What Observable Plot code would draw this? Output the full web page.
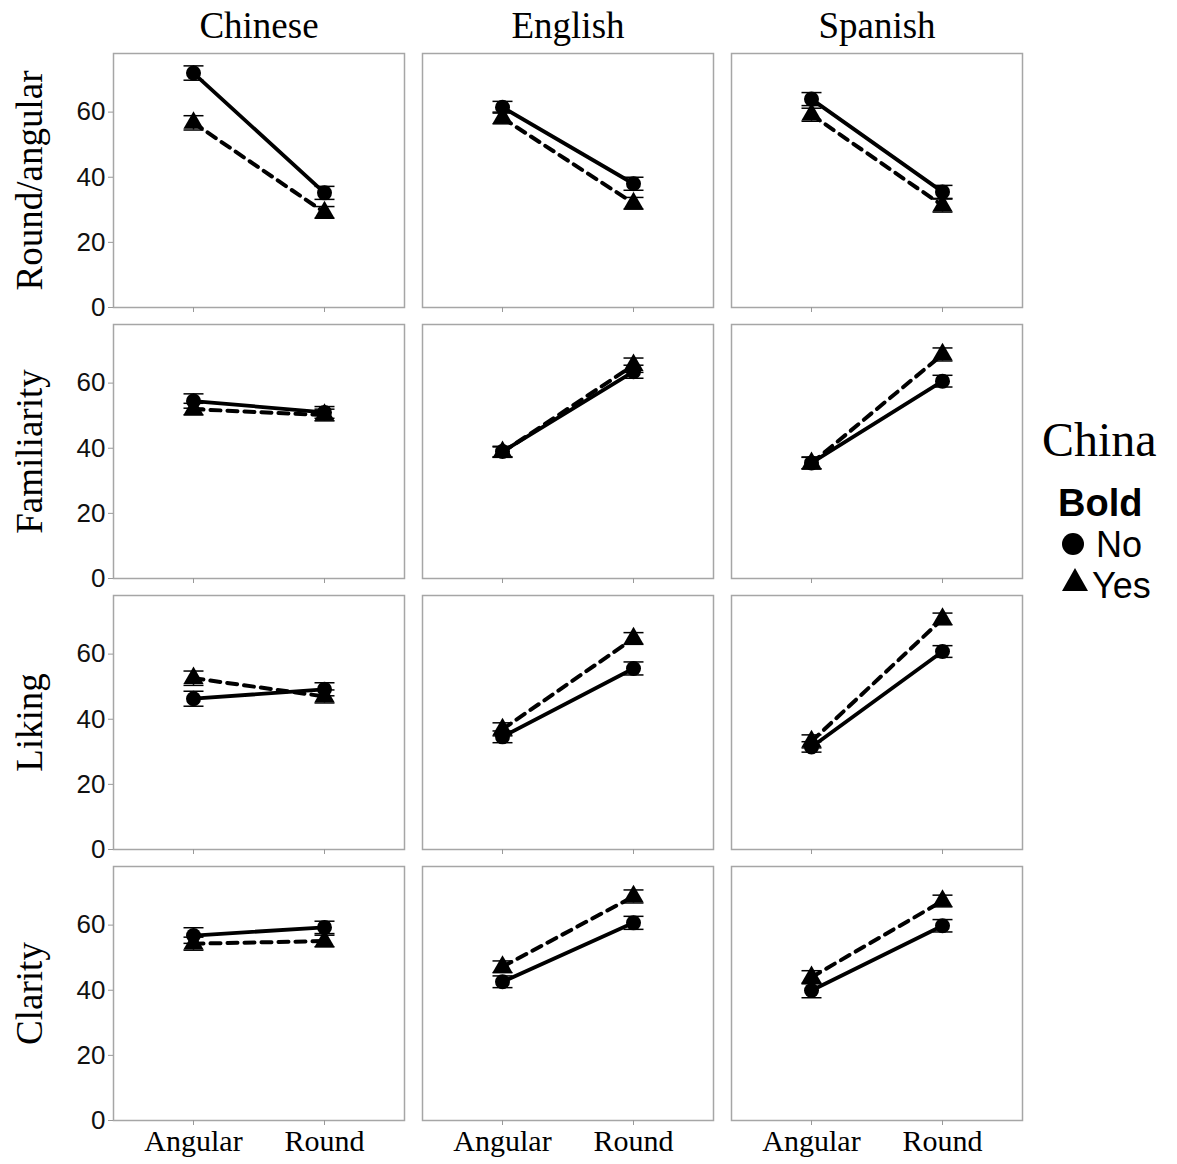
<!DOCTYPE html>
<html>
<head>
<meta charset="utf-8">
<script src="https://cdn.jsdelivr.net/npm/d3@7"></script>
<script src="https://cdn.jsdelivr.net/npm/@observablehq/plot@0.6"></script>
<style>
  html, body { margin: 0; padding: 0; background: #fff; }
  #wrap { position: relative; width: 1177px; height: 1164px; overflow: hidden; }
  #chart { position: absolute; left: 0; top: 0; }
  .lg { position: absolute; white-space: nowrap; color: #000; line-height: 1; }
</style>
</head>
<body>
<div id="wrap">
  <div id="chart"></div>
  <div class="lg" style="left:1042px; top:416px; font-family:'Liberation Serif',serif; font-size:48px;">China</div>
  <div class="lg" style="left:1058px; top:484px; font-family:'Liberation Sans',Arial,sans-serif; font-size:38px; font-weight:bold;">Bold</div>
  <svg class="lg" style="left:1058px; top:530px;" width="40" height="66">
    <circle cx="15" cy="14" r="11" fill="#000"></circle>
    <polygon points="17,38 30,61 4,61" fill="#000"></polygon>
  </svg>
  <div class="lg" style="left:1096px; top:526.5px; font-family:'Liberation Sans',Arial,sans-serif; font-size:36px;">No</div>
  <div class="lg" style="left:1092px; top:567.5px; font-family:'Liberation Sans',Arial,sans-serif; font-size:36px;">Yes</div>
</div>
<script>
// ---- data ----
const languages = ["Chinese", "English", "Spanish"];
const measures = ["Round/angular", "Familiarity", "Liking", "Clarity"];
const shapes = ["Angular", "Round"];
const boldLevels = ["No", "Yes"];
const yTicks = [0, 20, 40, 60];

// means [measure][language][shape]
const meanNo = [
  [[72.0, 35.2], [61.5, 38.0], [64.0, 35.5]],
  [[54.5, 51.0], [39.0, 63.5], [35.5, 60.6]],
  [[46.3, 49.2], [34.6, 55.6], [31.5, 60.8]],
  [[56.8, 59.3], [42.6, 60.7], [39.9, 59.8]]
];
const meanYes = [
  [[56.7, 29.2], [58.2, 32.0], [59.2, 31.3]],
  [[52.0, 50.2], [38.8, 65.5], [35.4, 68.8]],
  [[52.6, 47.0], [36.9, 64.8], [33.2, 70.8]],
  [[54.3, 55.1], [47.2, 68.8], [44.0, 67.4]]
];
// standard errors [measure][language][shape]
const seNo = [
  [[2.2, 2.0], [1.8, 2.0], [2.0, 2.0]],
  [[2.2, 1.8], [1.6, 2.0], [1.8, 1.8]],
  [[2.3, 2.0], [1.8, 2.0], [1.6, 1.8]],
  [[2.4, 1.9], [1.8, 2.0], [2.2, 1.9]]
];
const seYes = [
  [[2.2, 1.8], [1.8, 1.8], [2.0, 2.0]],
  [[1.8, 1.8], [1.6, 2.2], [1.8, 2.0]],
  [[2.2, 2.0], [2.0, 1.8], [2.0, 1.8]],
  [[2.0, 1.8], [1.8, 2.0], [2.0, 1.8]]
];

const rows = [];
measures.forEach((m, i) => languages.forEach((l, j) => shapes.forEach((s, k) => {
  rows.push({measure: m, language: l, shape: s, bold: "No", mean: meanNo[i][j][k], se: seNo[i][j][k]});
  rows.push({measure: m, language: l, shape: s, bold: "Yes", mean: meanYes[i][j][k], se: seYes[i][j][k]});
})));
const rowsNo = rows.filter(d => d.bold === "No");
const rowsYes = rows.filter(d => d.bold === "Yes");

const capSymbol = {
  draw(ctx, size) {
    const w = Math.sqrt(size / Math.PI);
    ctx.moveTo(-w, 0);
    ctx.lineTo(w, 0);
  }
};

const F = {fx: "language", fy: "measure"};
const serif = "'Liberation Serif', 'Times New Roman', serif";
const sans = "'Liberation Sans', Arial, sans-serif";

const chart = Plot.plot({
  width: 1177,
  height: 1164,
  marginLeft: 113,
  marginRight: 154,
  marginTop: 53,
  marginBottom: 44,
  style: {background: "#fff", color: "#000", overflow: "visible"},
  x: {type: "point", domain: shapes, padding: 0.61, axis: null},
  y: {domain: [0, 78], axis: null},
  fx: {domain: languages, paddingInner: 0.058, paddingOuter: 0, axis: null},
  fy: {domain: measures, paddingInner: 0.063, paddingOuter: 0, axis: null},
  marks: [
    Plot.frame({stroke: "#a6a6a6", strokeWidth: 1.5}),
    Plot.axisFx({anchor: "top", tickSize: 0, tickPadding: 0, fontSize: 37, fontFamily: serif, label: null, dy: -16}),
    Plot.axisFy({anchor: "left", tickSize: 0, tickPadding: 0, fontSize: 37, fontFamily: serif, label: null, tickRotate: -90, dx: -72}),
    Plot.axisY({anchor: "left", ticks: yTicks, tickSize: 5, tickPadding: 3, stroke: "#999", fill: "#111", fontSize: 26, fontFamily: sans, label: null, facetAnchor: "left"}),
    Plot.axisX({anchor: "bottom", tickSize: 5, stroke: "#999", tickFormat: () => "", label: null, facetAnchor: null}),
    Plot.axisX({anchor: "bottom", tickSize: 0, tickPadding: 9, fontSize: 30, fontFamily: serif, fill: "#000", label: null, facetAnchor: "bottom"}),
    Plot.line(rowsNo, {...F, x: "shape", y: "mean", stroke: "#000", strokeWidth: 3.8}),
    Plot.line(rowsYes, {...F, x: "shape", y: "mean", stroke: "#000", strokeWidth: 4, strokeDasharray: "10,7"}),
    Plot.ruleX(rows, {...F, x: "shape", y1: d => d.mean - d.se, y2: d => d.mean + d.se, stroke: "#000", strokeWidth: 1.5}),
    Plot.dot(rows, {...F, x: "shape", y: d => d.mean + d.se, symbol: capSymbol, r: 10, stroke: "#000", fill: "none", strokeWidth: 1.5}),
    Plot.dot(rows, {...F, x: "shape", y: d => d.mean - d.se, symbol: capSymbol, r: 10, stroke: "#000", fill: "none", strokeWidth: 1.5}),
    Plot.dot(rowsNo, {...F, x: "shape", y: "mean", symbol: "circle", r: 7.5, fill: "#000", stroke: null}),
    Plot.dot(rowsYes, {...F, x: "shape", y: "mean", symbol: "triangle", r: 7.5, fill: "#000", stroke: null})
  ]
});
document.getElementById("chart").appendChild(chart);
</script>
</body>
</html>
